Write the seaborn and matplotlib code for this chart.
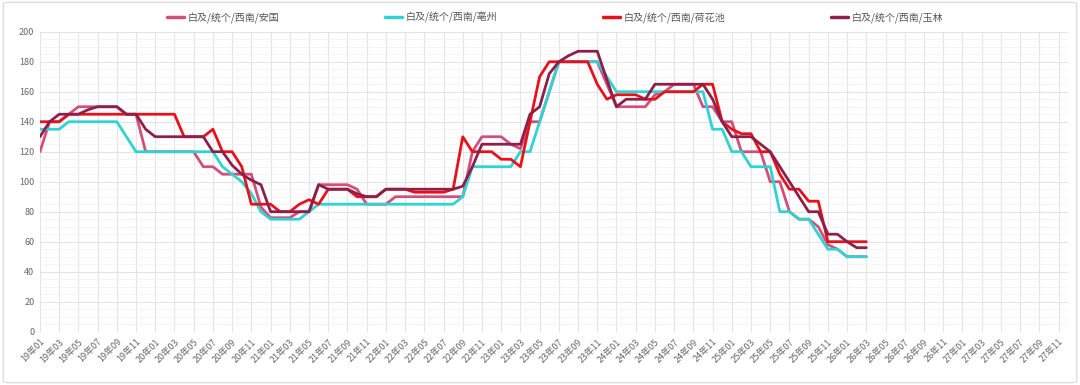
import pandas as pd
import numpy as np
import matplotlib
matplotlib.use("Agg")
import matplotlib.pyplot as plt
import seaborn as sns
from matplotlib.patches import FancyBboxPatch
from matplotlib.ticker import MultipleLocator

# month axis: 19年01 .. 27年12
years = list(range(19, 28))
months = [f"{y}年{m:02d}" for y in years for m in range(1, 13)]
tick_labels = months[::2]

series_names = ["白及/统个/西南/安国", "白及/统个/西南/亳州",
                "白及/统个/西南/荷花池", "白及/统个/西南/玉林"]

# values, 19年01 .. 26年03
anguo = [120, 140, 140, 145, 150, 150, 150, 150, 150, 145, 145, 120,
         120, 120, 120, 120, 120, 110, 110, 105, 105, 105, 105, 83,
         76, 76, 76, 80, 80, 98, 98, 98, 98, 95, 85, 85,
         85, 90, 90, 90, 90, 90, 90, 90, 90, 120, 130, 130,
         130, 125, 122, 140, 140, 160, 180, 180, 180, 180, 180, 165,
         150, 150, 150, 150, 158, 160, 165, 165, 165, 150, 150, 140,
         140, 120, 120, 120, 100, 100, 80, 75, 75, 70, 58, 55,
         50, 50, 50]
bozhou = [135, 135, 135, 140, 140, 140, 140, 140, 140, 130, 120, 120,
          120, 120, 120, 120, 120, 120, 120, 110, 105, 100, 92, 80,
          75, 75, 75, 75, 80, 85, 85, 85, 85, 85, 85, 85,
          85, 85, 85, 85, 85, 85, 85, 85, 90, 110, 110, 110,
          110, 110, 120, 120, 140, 160, 180, 180, 180, 180, 180, 170,
          160, 160, 160, 160, 160, 160, 160, 160, 160, 160, 135, 135,
          120, 120, 110, 110, 110, 80, 80, 75, 75, 65, 55, 55,
          50, 50, 50]
hehuachi = [140, 140, 140, 145, 145, 145, 145, 145, 145, 145, 145, 145,
            145, 145, 145, 130, 130, 130, 135, 120, 120, 110, 85, 85,
            85, 80, 80, 85, 88, 85, 95, 95, 95, 90, 90, 90,
            95, 95, 95, 93, 93, 93, 93, 95, 130, 120, 120, 120,
            115, 115, 110, 140, 170, 180, 180, 180, 180, 180, 165, 155,
            158, 158, 158, 155, 155, 160, 160, 160, 160, 165, 165, 140,
            135, 132, 132, 120, 120, 105, 95, 95, 87, 87, 60, 60,
            60, 60, 60]
yulin = [130, 140, 145, 145, 145, 148, 150, 150, 150, 145, 145, 135,
         130, 130, 130, 130, 130, 130, 120, 120, 111, 105, 101, 98,
         80, 80, 80, 80, 80, 98, 95, 95, 95, 92, 90, 90,
         95, 95, 95, 95, 95, 95, 95, 95, 97, 110, 125, 125,
         125, 125, 125, 145, 150, 172, 180, 184, 187, 187, 187, 168,
         150, 155, 155, 155, 165, 165, 165, 165, 165, 165, 155, 140,
         130, 130, 130, 125, 120, 110, 100, 90, 80, 80, 65, 65,
         60, 56, 56]

colors = ["#d24f7c", "#2fd3d3", "#e8111a", "#8d1f4b"]

frames = []
for name, vals in zip(series_names, [anguo, bozhou, hehuachi, yulin]):
    frames.append(pd.DataFrame({"idx": range(len(vals)), "value": vals, "series": name}))
df = pd.concat(frames, ignore_index=True)

sns.set_style("white")
plt.rcParams["font.family"] = ["Noto Sans CJK SC", "DejaVu Sans"]

fig = plt.figure(figsize=(10.8, 3.85), dpi=100, facecolor="white")
ax = fig.add_axes([0.037, 0.1385, 0.952, 0.779])

sns.lineplot(data=df, x="idx", y="value", hue="series", hue_order=series_names,
             palette=colors, linewidth=2.0, ax=ax, legend=False)

ax.set_xlim(0, len(months) - 1)
ax.set_ylim(0, 200)
ax.set_yticks(range(0, 201, 20))
ax.yaxis.set_minor_locator(MultipleLocator(5))
ax.set_xticks(range(0, len(months), 2))
ax.set_xticklabels(tick_labels, rotation=45, ha="right", rotation_mode="anchor")
ax.tick_params(axis="both", labelsize=6.5, colors="#666666", length=0, pad=4)
ax.grid(which="major", color="#e4e4e4", linewidth=0.8)
ax.grid(which="minor", axis="y", color="#f4f4f4", linewidth=0.6)
ax.set_axisbelow(True)
for s in ax.spines.values():
    s.set_visible(False)
ax.set_xlabel("")
ax.set_ylabel("")

handles = [plt.Line2D([], [], color=c, linewidth=2.5) for c in colors]
fig.legend(handles, series_names, loc="center", bbox_to_anchor=(555 / 1080, 1 - 17 / 385),
           ncol=4, frameon=False, fontsize=7.2, handlelength=1.7, handletextpad=0.35,
           columnspacing=10.6, labelcolor="#555555")

border = FancyBboxPatch((0.003, 0.006), 0.994, 0.988, boxstyle="round,pad=0,rounding_size=0.005",
                        transform=fig.transFigure, facecolor="none", edgecolor="#dddddd", linewidth=1.0)
fig.patches.append(border)

fig.savefig("out.png", dpi=100, facecolor="white")
